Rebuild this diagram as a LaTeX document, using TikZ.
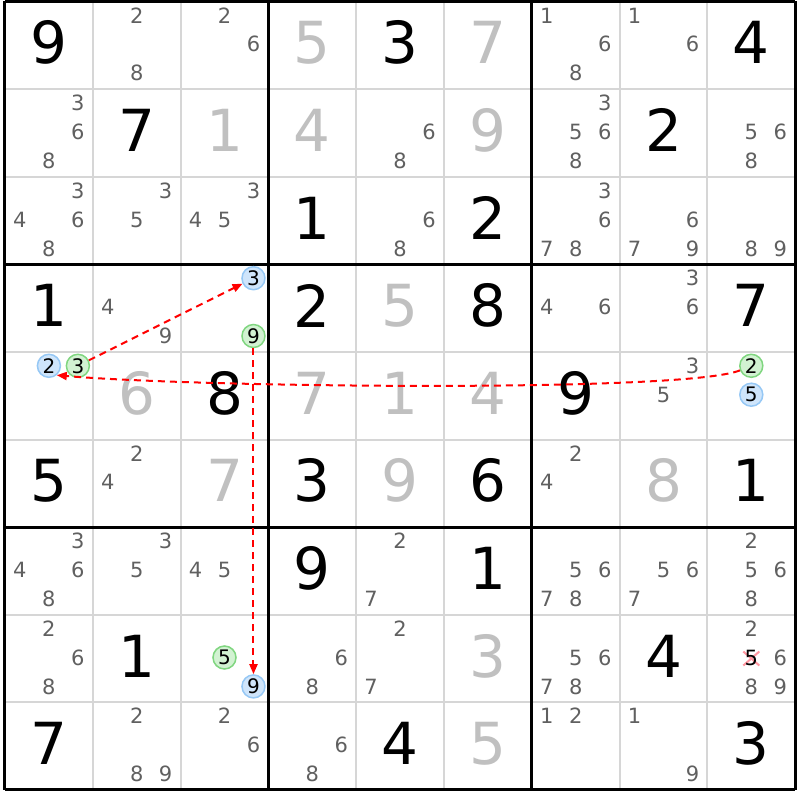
\documentclass[tikz,border=0pt]{standalone}
\usepackage{fontspec}
\setmainfont{DejaVu Sans}
\usetikzlibrary{arrows.meta}

\definecolor{candgray}{RGB}{96,96,96}
\definecolor{solvedgray}{RGB}{192,192,192}
\definecolor{gridgray}{RGB}{214,214,214}
\definecolor{ringblue}{RGB}{207,229,251}
\definecolor{ringblueline}{RGB}{150,200,245}
\definecolor{ringgreen}{RGB}{210,242,210}
\definecolor{ringgreenline}{RGB}{128,214,128}
\definecolor{crosspink}{RGB}{255,150,160}

\begin{document}
\begin{tikzpicture}[x=87.8pt, y=-87.6pt,
        given/.style={inner sep=0pt, yshift=2.5pt, font=\fontsize{58}{58}\selectfont},
        solved/.style={given, text=solvedgray},
        cand/.style={inner sep=0pt, yshift=1pt, text=candgray, font=\fontsize{21}{21}\selectfont},
        ring/.style={circle, inner sep=0pt, minimum size=23pt, line width=1.5pt, yshift=1pt,
                font=\fontsize{20}{20}\selectfont},
        bluering/.style={ring, draw=ringblueline, fill=ringblue},
        greenring/.style={ring, draw=ringgreenline, fill=ringgreen},
        link/.style={draw=red, line width=2pt, dash pattern=on 7pt off 5pt,
                -{Triangle[length=10pt,width=8pt,fill=red]}},
        thinline/.style={gridgray, line width=2pt},
        boxline/.style={black, line width=3pt}]
    \fill[white] (-5pt,1.5pt) rectangle (795pt,-798.5pt);
    \useasboundingbox (-5pt,1.5pt) rectangle (795pt,-798.5pt);

    % cell lines, then the box lines on top
    \foreach \i in {1,...,8} {
        \draw[thinline] (\i,0) -- (\i,9);
        \draw[thinline] (0,\i) -- (9,\i);
    }
    \foreach \i in {0,3,6,9} {
        \draw[boxline] (\i,0) -- (\i,9);
        \draw[boxline] (0,\i) -- (9,\i);
    }

    % givens (row/column/digit)
    \foreach \r/\c/\d in {0/0/9, 0/4/3, 0/8/4, 1/1/7, 1/7/2, 2/3/1, 2/5/2, 3/0/1, 3/3/2, 3/5/8,
            3/8/7, 4/2/8, 4/6/9, 5/0/5, 5/3/3, 5/5/6, 5/8/1, 6/3/9, 6/5/1, 7/1/1, 7/7/4,
            8/0/7, 8/4/4, 8/8/3}
        \node[given] (g-\r-\c) at (\c+0.5,\r+0.5) {\d};

    % digits already solved
    \foreach \r/\c/\d in {0/3/5, 0/5/7, 1/2/1, 1/3/4, 1/5/9, 3/4/5, 4/1/6, 4/3/7, 4/4/1, 4/5/4,
            5/2/7, 5/4/9, 5/7/8, 7/5/3, 8/5/5}
        \node[solved] (s-\r-\c) at (\c+0.5,\r+0.5) {\d};

    % pencil marks, digit d sits in the d-th place of a 3x3 grid
    \foreach \r/\c/\d in {0/1/2, 0/1/8, 0/2/2, 0/2/6, 0/6/1, 0/6/6, 0/6/8, 0/7/1, 0/7/6,
            1/0/3, 1/0/6, 1/0/8, 1/4/6, 1/4/8, 1/6/3, 1/6/5, 1/6/6, 1/6/8, 1/8/5, 1/8/6, 1/8/8,
            2/0/3, 2/0/4, 2/0/6, 2/0/8, 2/1/3, 2/1/5, 2/2/3, 2/2/4, 2/2/5, 2/4/6, 2/4/8,
            2/6/3, 2/6/6, 2/6/7, 2/6/8, 2/7/6, 2/7/7, 2/7/9, 2/8/8, 2/8/9,
            3/1/4, 3/1/9, 3/6/4, 3/6/6, 3/7/3, 3/7/6, 4/7/3, 4/7/5, 5/1/2, 5/1/4, 5/6/2, 5/6/4,
            6/0/3, 6/0/4, 6/0/6, 6/0/8, 6/1/3, 6/1/5, 6/2/4, 6/2/5, 6/4/2, 6/4/7,
            6/6/5, 6/6/6, 6/6/7, 6/6/8, 6/7/5, 6/7/6, 6/7/7, 6/8/2, 6/8/5, 6/8/6, 6/8/8,
            7/0/2, 7/0/6, 7/0/8, 7/3/6, 7/3/8, 7/4/2, 7/4/7, 7/6/5, 7/6/6, 7/6/7, 7/6/8,
            7/8/2, 7/8/6, 7/8/8, 7/8/9, 8/1/2, 8/1/8, 8/1/9, 8/2/2, 8/2/6, 8/3/6, 8/3/8,
            8/6/1, 8/6/2, 8/7/1, 8/7/9}
        \node[cand] (k-\r-\c-\d) at ({\c+0.5+0.33*(mod(\d-1,3)-1)},{\r+0.5+0.33*(int((\d-1)/3)-1)}) {\d};

    % crossed out 5
    \coordinate (cross) at (8.5,7.5);
    \draw[crosspink, line width=2pt] ([shift={(-8pt,-7pt)}]cross) -- ([shift={(8pt,7pt)}]cross);
    \draw[crosspink, line width=2pt] ([shift={(-8pt,7pt)}]cross) -- ([shift={(8pt,-7pt)}]cross);
    \node[inner sep=0pt, yshift=1pt, font=\fontsize{21}{21}\selectfont] (k-7-8-5) at (cross) {5};

    % ringed pencil marks
    \node[bluering] (h-3-2-3) at (2.83,3.17) {3};
    \node[greenring] (h-3-2-9) at (2.83,3.83) {9};
    \node[bluering] (h-4-0-2) at (0.5,4.17) {2};
    \node[greenring] (h-4-0-3) at (0.83,4.17) {3};
    \node[greenring] (h-4-8-2) at (8.5,4.17) {2};
    \node[bluering] (h-4-8-5) at (8.5,4.5) {5};
    \node[greenring] (h-7-2-5) at (2.5,7.5) {5};
    \node[bluering] (h-7-2-9) at (2.83,7.83) {9};

    % chain
    \draw[link] (h-4-0-3) -- (h-3-2-3);
    \draw[link] (h-3-2-9) -- (h-7-2-9);
    \draw[link] (h-4-8-2.202) .. controls +(202:60pt) and +(-5:140pt) .. (h-4-0-2.310);
\end{tikzpicture}
\end{document}
